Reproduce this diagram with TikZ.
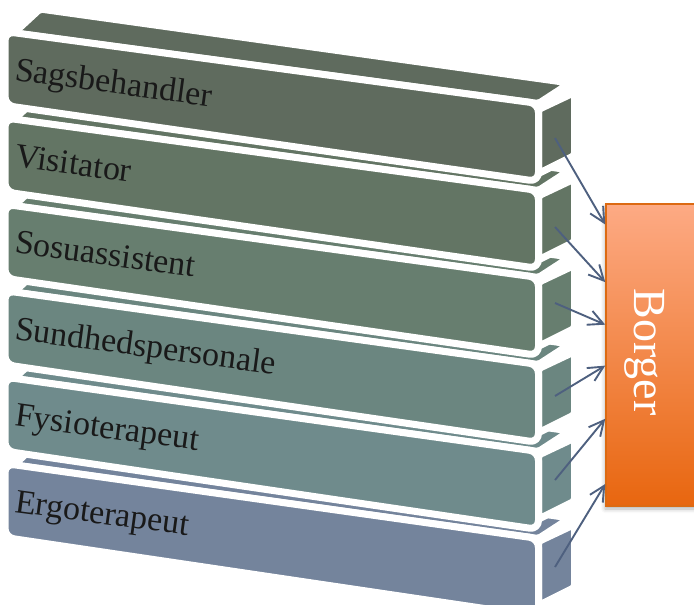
\documentclass[tikz,border=0pt]{standalone}
\usepackage{fontspec}
\setmainfont{Liberation Serif}
\usetikzlibrary{arrows.meta, calc, shadows.blur}

\definecolor{sagsfill}{HTML}{5F6B5E}
\definecolor{visitfill}{HTML}{637564}
\definecolor{sosufill}{HTML}{677E6F}
\definecolor{sundfill}{HTML}{6B8680}
\definecolor{fysiofill}{HTML}{6F8B8C}
\definecolor{ergofill}{HTML}{74849C}
\definecolor{borgertop}{HTML}{FDAA84}
\definecolor{borgerbottom}{HTML}{E8660F}
\definecolor{borgerline}{HTML}{DC6A12}
\definecolor{arrowblue}{HTML}{4E607F}

\begin{document}
\begin{tikzpicture}[
	x=1pt, y=-1pt,
	>={Straight Barb[length=15pt,width=15pt]},
	face/.style={draw=white, line width=7pt, line join=round, fill=#1},
	frontface/.style={face=#1, rounded corners=9pt},
	topface/.style={face=#1, rounded corners=2pt},
	sideface/.style={face=#1, rounded corners=2pt},
	role/.style={anchor=base west, rotate=-7.7, inner sep=0pt, text=black!90,
		font=\fontsize{34}{40}\selectfont},
	borgerbox/.style={
		rectangle, draw=borgerline, line width=1.5pt,
		top color=borgertop, bottom color=borgerbottom,
		minimum width=96pt, minimum height=302pt,
		blur shadow={shadow xshift=-1pt, shadow yshift=-3pt, shadow blur radius=4pt, shadow opacity=30}
	},
	arrow/.style={->, line width=1.9pt, draw=arrowblue}
	]
	
	\useasboundingbox (0,0) rectangle (694,605);
	
	% Bars, from the bottom up
	% Ergoterapeut
	\path[topface=ergofill] (14,465) -- (538.5,538.5) -- (570,518) -- (40,441) -- cycle;
	\path[sideface=ergofill] (538.5,541.5) -- (574.5,524.5) -- (574.5,587.5) -- (538.5,605.5) -- cycle;
	\path[frontface=ergofill] (5,463.5) -- (538.5,538.5) -- (538.5,616.5) -- (5,537.5) -- cycle;
	\node[role] (ergo) at (14,512) {Ergoterapeut};
	
	% Fysioterapeut
	\path[topface=fysiofill] (14,378.6) -- (538.5,451.5) -- (570,431) -- (40,354.6) -- cycle;
	\path[sideface=fysiofill] (538.5,455.1) -- (574.5,438.1) -- (574.5,501.1) -- (538.5,519.1) -- cycle;
	\path[frontface=fysiofill] (5,377.1) -- (538.5,451.5) -- (538.5,529.5) -- (5,451.1) -- cycle;
	\node[role] (fysio) at (14,425.6) {Fysioterapeut};
	
	% Sundhedspersonale
	\path[topface=sundfill] (14,292.2) -- (538.5,364.5) -- (570,344) -- (40,268.2) -- cycle;
	\path[sideface=sundfill] (538.5,368.7) -- (574.5,351.7) -- (574.5,414.7) -- (538.5,432.7) -- cycle;
	\path[frontface=sundfill] (5,290.7) -- (538.5,364.5) -- (538.5,442.5) -- (5,364.7) -- cycle;
	\node[role] (sund) at (14,339.2) {Sundhedspersonale};
	
	% Sosuassistent
	\path[topface=sosufill] (14,205.8) -- (538.5,277.5) -- (570,257) -- (40,181.8) -- cycle;
	\path[sideface=sosufill] (538.5,282.3) -- (574.5,265.3) -- (574.5,328.3) -- (538.5,346.3) -- cycle;
	\path[frontface=sosufill] (5,204.3) -- (538.5,277.5) -- (538.5,355.5) -- (5,278.3) -- cycle;
	\node[role] (sosu) at (14,252.8) {Sosuassistent};
	
	% Visitator
	\path[topface=visitfill] (14,119.4) -- (538.5,190.5) -- (570,170) -- (40,95.4) -- cycle;
	\path[sideface=visitfill] (538.5,195.9) -- (574.5,178.9) -- (574.5,241.9) -- (538.5,259.9) -- cycle;
	\path[frontface=visitfill] (5,117.9) -- (538.5,190.5) -- (538.5,268.5) -- (5,191.9) -- cycle;
	\node[role] (visit) at (14,166.4) {Visitator};
	
	% Sagsbehandler
	\path[topface=sagsfill] (14,33) -- (538.5,103.5) -- (570,83) -- (40,9) -- cycle;
	\path[sideface=sagsfill] (538.5,109.5) -- (574.5,92.5) -- (574.5,155.5) -- (538.5,173.5) -- cycle;
	\path[frontface=sagsfill] (5,31.5) -- (538.5,103.5) -- (538.5,181.5) -- (5,105.5) -- cycle;
	\node[role] (sags) at (14,80) {Sagsbehandler};
	
	% Borger
	\node[borgerbox] (borger) at (654,355) {};
	\node[anchor=base, rotate=-90, inner sep=0pt, text=white, font=\fontsize{46}{50}\selectfont] (borgertext) at (634,352) {Borger};
	
	% Arrow starts on the bar ends
	\coordinate (sagsout) at (555,138);
	\coordinate (visitout) at (555,227);
	\coordinate (sosuout) at (555,303);
	\coordinate (sundout) at (555,396);
	\coordinate (fysioout) at (555,480);
	\coordinate (ergoout) at (555,567);
	
	% Arrows into Borger
	\draw[arrow] (sagsout) -- ($(borger.north west)!0.07!(borger.south west)$);
	\draw[arrow] (visitout) -- ($(borger.north west)!0.26!(borger.south west)$);
	\draw[arrow] (sosuout) -- ($(borger.north west)!0.40!(borger.south west)$);
	\draw[arrow] (sundout) -- ($(borger.north west)!0.535!(borger.south west)$);
	\draw[arrow] (fysioout) -- ($(borger.north west)!0.71!(borger.south west)$);
	\draw[arrow] (ergoout) -- ($(borger.north west)!0.925!(borger.south west)$);
	
\end{tikzpicture}
\end{document}
